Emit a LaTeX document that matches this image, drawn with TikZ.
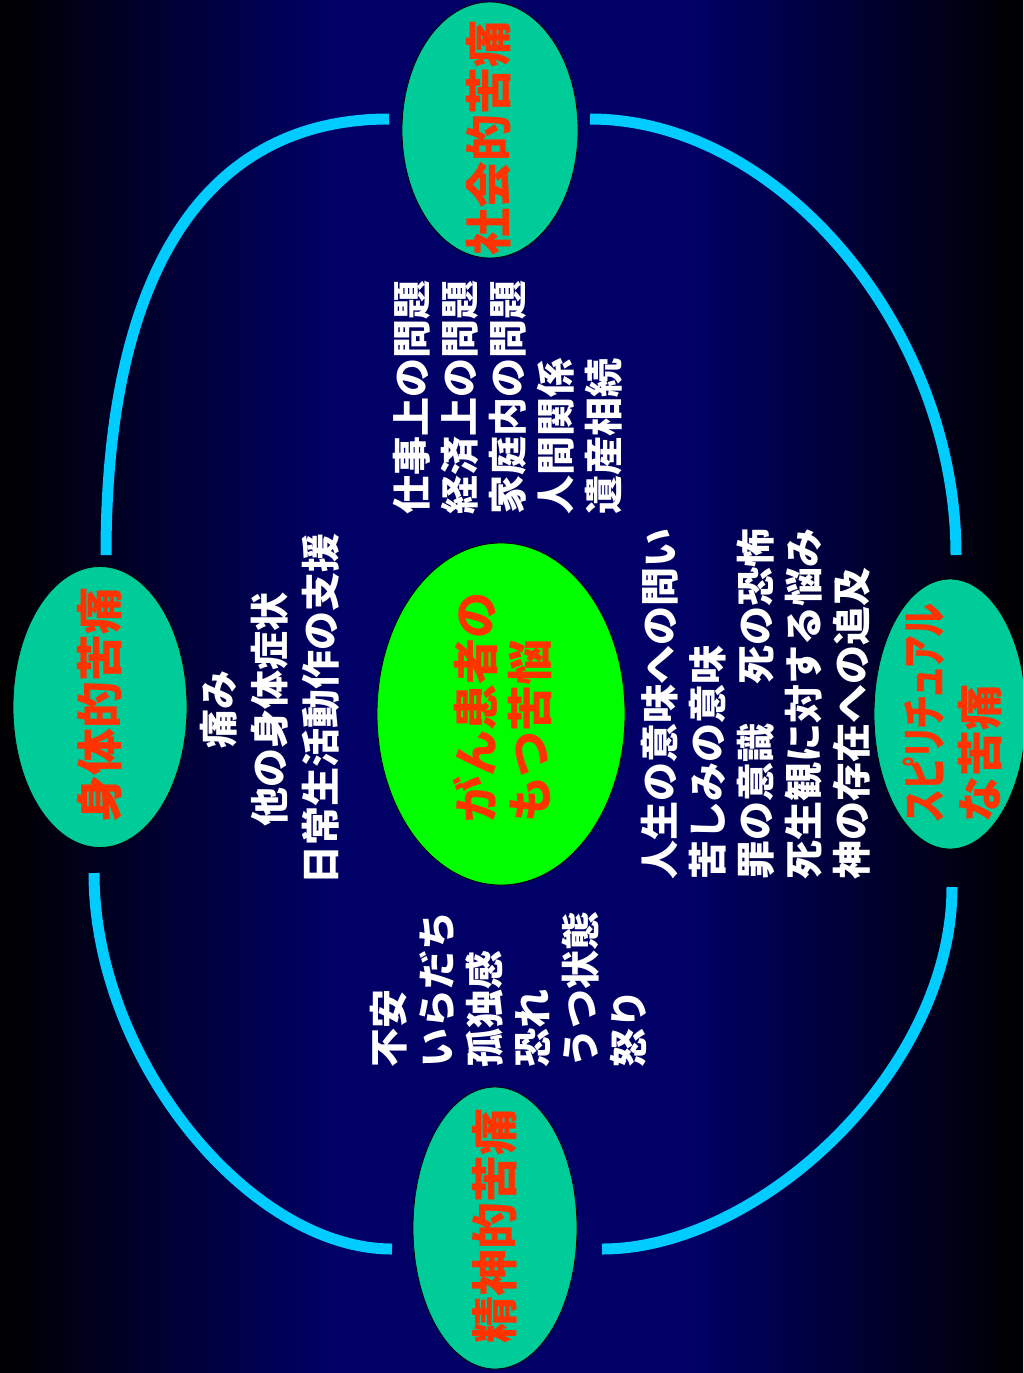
\documentclass[tikz,border=0pt]{standalone}
\usepackage{fontspec}
\newfontfamily\jp{Noto Sans CJK JP}
\newfontfamily\jpp{Noto Sans CJK JP}[RawFeature=+palt, FakeStretch=0.74]
\usetikzlibrary{shapes.geometric}
\definecolor{navybg}{RGB}{0,0,102}
\definecolor{ringcol}{RGB}{0,204,255}
\definecolor{bubblecol}{RGB}{0,204,153}
\definecolor{corecol}{RGB}{0,255,0}
\definecolor{titlered}{RGB}{255,51,0}
\tikzset{
  bubble/.style={ellipse, draw=black, line width=0.8pt, fill=bubblecol, inner sep=0pt},
  titletext/.style={rotate=90, text=titlered, inner sep=0pt, align=left,
    font={\jp\bfseries\fontsize{47}{56}\selectfont}},
  bodytext/.style={rotate=90, text=white, inner sep=0pt,
    font={\jp\bfseries\fontsize{39}{48}\selectfont}},
  ringline/.style={draw=ringcol, line width=11pt}
}
\begin{document}
\begin{tikzpicture}[x=1pt, y=-1pt]
\useasboundingbox (0,0) rectangle (1023,1373);
\clip (0,0) rectangle (1023,1373);
% background
\shade[left color=black, right color=navybg] (0,0) rectangle (331,1373);
\fill[navybg] (330,0) rectangle (691,1373);
\shade[left color=navybg, right color=black] (690,0) rectangle (1023,1373);

% ring arcs
\coordinate (tlA) at (389,119);
\coordinate (tlB) at (106,555);
\coordinate (trA) at (590,119);
\coordinate (trB) at (956,555);
\coordinate (blA) at (94,873);
\coordinate (blB) at (392,1249);
\coordinate (brA) at (952,887);
\coordinate (brB) at (602,1249);
\draw[ringline] (tlA) .. controls (200,119) and (106,280) .. (tlB);
\draw[ringline] (trA) .. controls (780,119) and (956,330) .. (trB);
\draw[ringline] (blA) .. controls (94,1060) and (250,1249) .. (blB);
\draw[ringline] (brA) .. controls (952,1070) and (760,1249) .. (brB);

% ellipses
\node[bubble, minimum width=176pt, minimum height=256pt] (social) at (490,130) {};
\node[bubble, minimum width=174pt, minimum height=281pt] (physical) at (100,707) {};
\node[bubble, minimum width=152pt, minimum height=270pt] (spiritual) at (950,714) {};
\node[bubble, minimum width=164pt, minimum height=282pt] (mental) at (495,1228) {};
\node[bubble, fill=corecol, minimum width=248pt, minimum height=342pt] (core) at (501,714) {};

% titles
\node[titletext] (socialT) at (489,138) {社会的苦痛};
\node[titletext] (physicalT) at (100,705) {身体的苦痛};
\node[titletext] (mentalT) at (495,1226) {精神的苦痛};
\node[titletext, font={\jp\bfseries\fontsize{46}{56}\selectfont}] (spiritualT) at (952,713)
  {{\jpp\bfseries スピリチュアル}\\な苦痛};
\node[titletext, font={\jp\bfseries\fontsize{46}{54}\selectfont}] (coreT) at (503,707)
  {がん患者の\\もつ苦悩};

% body texts
\node[bodytext, align=left, anchor=west] (socialB) at (508,515)
  {仕事上の問題\\経済上の問題\\家庭内の問題\\人間関係\\遺産相続};
\node[bodytext, align=center, font={\jp\bfseries\fontsize{39}{51}\selectfont}] (physicalB) at (270,709)
  {痛み\\他の身体症状\\日常生活動作の支援};
\node[bodytext, align=left, anchor=west] (mentalB) at (508,1068)
  {不安\\いらだち\\孤独感\\恐れ\\うつ状態\\怒り};
\node[bodytext, align=left, anchor=west] (spiritualB) at (756,880)
  {人生の意味への問い\\苦しみの意味\\罪の意識　死の恐怖\\死生観に対する悩み\\神の存在への追及};
\end{tikzpicture}
\end{document}
